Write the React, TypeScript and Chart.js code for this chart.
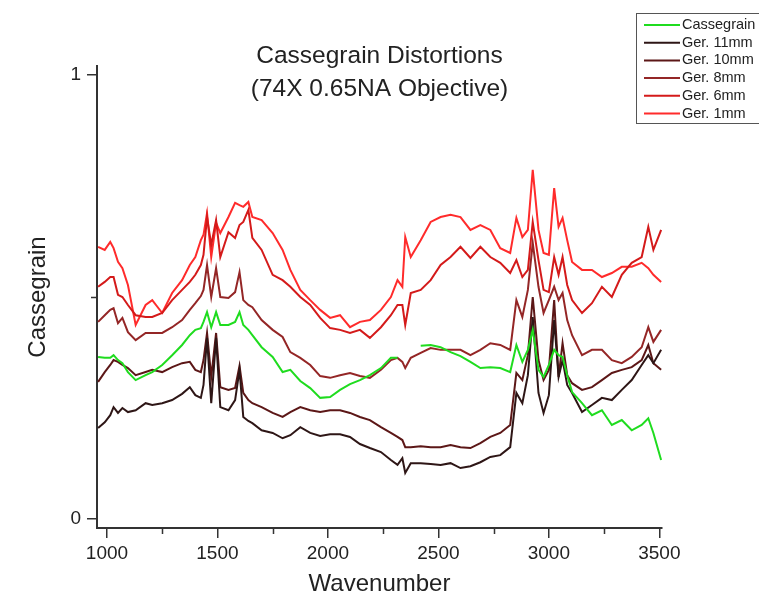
import React, { useEffect, useRef } from "react";
import { Chart, registerables } from "chart.js";

Chart.register(...registerables);

const titleLines = ["Cassegrain Distortions", "(74X 0.65NA Objective)"];
const xAxisTitle = "Wavenumber";
const yAxisTitle = "Cassegrain";

const xMajorTicks = [1000, 1500, 2000, 2500, 3000, 3500];
const xMinorTicks = [1250, 1750, 2250, 2750, 3250];
const yMajorTicks = [0, 1];
const yMinorTicks = [0.5];

const seriesLabels = ["Cassegrain", "Ger. 11mm", "Ger. 10mm", "Ger. 8mm", "Ger. 6mm", "Ger. 1mm"];
const seriesColors = ["#1fdc1f", "#2e1616", "#5c1717", "#942626", "#d41a1a", "#ff2b2b"];

const wavenumber = [
  960, 990, 1015, 1030, 1050, 1070, 1095, 1130, 1175, 1205,
  1250, 1295, 1340, 1375, 1400, 1425, 1437, 1453, 1472, 1494,
  1513, 1550, 1580, 1600, 1617, 1640, 1658, 1700, 1750, 1795,
  1830, 1875, 1920, 1965, 2010, 2055, 2100, 2145, 2190, 2240,
  2285, 2315, 2337, 2350, 2375, 2420, 2465, 2510, 2555, 2600,
  2645, 2690, 2735, 2780, 2825, 2853, 2880, 2905, 2927, 2953,
  2976, 3000, 3024, 3044, 3062, 3083, 3105, 3150, 3195, 3240,
  3285, 3330, 3375, 3420, 3450, 3473, 3508,
];

const cassegrain = [
  0.365, 0.363, 0.363, 0.369, 0.358, 0.351, 0.331, 0.313, 0.324, 0.331,
  0.347, 0.369, 0.392, 0.414, 0.426, 0.430, 0.444, 0.466, 0.432, 0.466,
  0.437, 0.437, 0.444, 0.466, 0.437, 0.426, 0.414, 0.387, 0.365, 0.331,
  0.336, 0.311, 0.295, 0.273, 0.275, 0.291, 0.304, 0.313, 0.324, 0.340,
  0.363, 0.363, null, null, null, 0.390, 0.392, 0.387, 0.376, 0.367,
  0.354, 0.340, 0.342, 0.340, 0.331, 0.392, 0.354, 0.381, 0.426, 0.336,
  0.320, 0.347, 0.381, 0.369, 0.365, 0.324, 0.286, 0.261, 0.234, 0.245,
  0.212, 0.223, 0.200, 0.212, 0.227, 0.194, 0.133,
];

const ger11mm = [
  0.205, 0.218, 0.234, 0.252, 0.239, 0.250, 0.241, 0.245, 0.261, 0.257,
  0.261, 0.268, 0.282, 0.297, 0.279, 0.273, 0.302, 0.408, 0.261, 0.408,
  0.252, 0.245, 0.268, 0.336, 0.230, 0.221, 0.216, 0.200, 0.194, 0.182,
  0.189, 0.207, 0.194, 0.187, 0.191, 0.191, 0.185, 0.169, 0.160, 0.151,
  0.133, 0.122, 0.137, 0.104, 0.126, 0.126, 0.124, 0.122, 0.126, 0.115,
  0.119, 0.128, 0.140, 0.144, 0.162, 0.284, 0.261, 0.324, 0.455, 0.284,
  0.239, 0.279, 0.448, 0.320, 0.358, 0.302, 0.284, 0.241, 0.257, 0.273,
  0.268, 0.291, 0.313, 0.347, 0.369, 0.351, 0.381,
];

const ger10mm = [
  0.309, 0.331, 0.347, 0.358, 0.354, 0.347, 0.340, 0.324, 0.331, 0.336,
  0.331, 0.342, 0.351, 0.354, 0.336, 0.331, 0.358, 0.419, 0.320, 0.419,
  0.297, 0.291, 0.295, 0.345, 0.284, 0.268, 0.261, 0.252, 0.239, 0.230,
  0.241, 0.252, 0.245, 0.241, 0.245, 0.245, 0.239, 0.230, 0.223, 0.207,
  0.194, 0.185, 0.178, 0.162, 0.162, 0.164, 0.162, 0.162, 0.167, 0.162,
  0.160, 0.171, 0.185, 0.194, 0.212, 0.329, 0.313, 0.369, 0.500, 0.358,
  0.313, 0.336, 0.493, 0.320, 0.396, 0.324, 0.306, 0.291, 0.297, 0.313,
  0.329, 0.336, 0.342, 0.358, 0.392, 0.351, 0.336,
];

const ger8mm = [
  0.444, 0.459, 0.471, 0.475, 0.441, 0.453, 0.421, 0.403, 0.419, 0.419,
  0.419, 0.432, 0.448, 0.471, 0.486, 0.502, 0.516, 0.572, 0.500, 0.565,
  0.500, 0.498, 0.511, 0.556, 0.493, 0.482, 0.477, 0.448, 0.426, 0.410,
  0.376, 0.363, 0.347, 0.322, 0.318, 0.324, 0.329, 0.322, 0.318, 0.336,
  0.358, 0.363, 0.354, 0.340, 0.363, 0.374, 0.385, 0.381, 0.381, 0.381,
  0.369, 0.381, 0.396, 0.392, 0.381, 0.493, 0.455, 0.516, 0.622, 0.523,
  0.464, 0.493, 0.523, 0.493, 0.509, 0.448, 0.414, 0.369, 0.381, 0.381,
  0.358, 0.351, 0.365, 0.387, 0.432, 0.399, 0.426,
];

const ger6mm = [
  0.523, 0.534, 0.545, 0.545, 0.505, 0.500, 0.482, 0.459, 0.455, 0.455,
  0.464, 0.493, 0.516, 0.534, 0.550, 0.572, 0.595, 0.680, 0.617, 0.673,
  0.590, 0.646, 0.633, 0.662, 0.669, 0.696, 0.633, 0.606, 0.550, 0.538,
  0.523, 0.500, 0.482, 0.453, 0.430, 0.426, 0.419, 0.426, 0.408, 0.432,
  0.459, 0.482, 0.482, 0.437, 0.509, 0.516, 0.538, 0.572, 0.590, 0.613,
  0.588, 0.613, 0.590, 0.577, 0.554, 0.583, 0.545, 0.561, 0.669, 0.583,
  0.516, 0.511, 0.590, 0.550, 0.590, 0.527, 0.493, 0.464, 0.486, 0.523,
  0.500, 0.550, 0.577, 0.590, 0.658, 0.606, 0.651,
];

const ger1mm = [
  0.613, 0.606, 0.624, 0.610, 0.579, 0.565, 0.527, 0.437, 0.482, 0.493,
  0.464, 0.509, 0.538, 0.572, 0.590, 0.628, 0.640, 0.689, 0.590, 0.667,
  0.644, 0.680, 0.712, 0.707, 0.703, 0.714, 0.680, 0.673, 0.644, 0.606,
  0.561, 0.516, 0.493, 0.471, 0.453, 0.459, 0.432, 0.444, 0.448, 0.471,
  0.500, 0.538, 0.523, 0.635, 0.590, 0.628, 0.669, 0.680, 0.685, 0.680,
  0.651, 0.662, 0.651, 0.610, 0.599, 0.678, 0.635, 0.651, 0.786, 0.651,
  0.599, 0.595, 0.745, 0.658, 0.678, 0.628, 0.579, 0.561, 0.561, 0.545,
  0.554, 0.568, 0.568, 0.577, 0.565, 0.550, 0.534,
];

const seriesValues = [cassegrain, ger11mm, ger10mm, ger8mm, ger6mm, ger1mm];

const FONT = '"Liberation Sans", Arial, Helvetica, sans-serif';

const overlayPlugin = {
  id: "overlay",
  afterDraw(chart: any) {
    const ctx = chart.ctx;
    const area = chart.chartArea;
    const xs = chart.scales.x;
    const ys = chart.scales.y;
    ctx.save();

    // Minor tick marks (shorter than the major ones)
    ctx.strokeStyle = "#333";
    ctx.lineWidth = 1.5;
    ctx.beginPath();
    xMinorTicks.forEach((v) => {
      const px = Math.round(xs.getPixelForValue(v)) + 0.5;
      ctx.moveTo(px, area.bottom);
      ctx.lineTo(px, area.bottom + 6);
    });
    yMinorTicks.forEach((v) => {
      const py = Math.round(ys.getPixelForValue(v)) + 0.5;
      ctx.moveTo(area.left, py);
      ctx.lineTo(area.left - 6, py);
    });
    ctx.stroke();

    // Title
    ctx.fillStyle = "#222";
    ctx.font = `24.5px ${FONT}`;
    ctx.textAlign = "center";
    ctx.textBaseline = "middle";
    const cx = (area.left + area.right) / 2;
    titleLines.forEach((t, i) => ctx.fillText(t, cx, 56 + i * 33));

    // Legend box
    const bx = 636;
    const by = 13;
    const bw = 130;
    const bh = 110;
    ctx.fillStyle = "#fff";
    ctx.fillRect(bx, by, bw, bh);
    ctx.strokeStyle = "#555";
    ctx.lineWidth = 1;
    ctx.strokeRect(bx + 0.5, by + 0.5, bw, bh);
    ctx.font = `14.5px ${FONT}`;
    ctx.textAlign = "left";
    chart.data.datasets.forEach((ds: any, i: number) => {
      const y = by + 12 + i * 17.7;
      ctx.strokeStyle = ds.borderColor;
      ctx.lineWidth = 2;
      ctx.beginPath();
      ctx.moveTo(bx + 8, y);
      ctx.lineTo(bx + 44, y);
      ctx.stroke();
      ctx.fillStyle = "#222";
      ctx.fillText(ds.label, bx + 46, y);
    });
    ctx.restore();
  },
};

export default function App() {
  const ref = useRef<HTMLCanvasElement | null>(null);

  useEffect(() => {
    if (!ref.current) return;
    const datasets = seriesLabels.map((label, s) => ({
      label,
      data: wavenumber.map((x, i) => ({ x, y: seriesValues[s][i] })),
      borderColor: seriesColors[s],
      backgroundColor: seriesColors[s],
      borderWidth: 2,
      pointRadius: 0,
      tension: 0,
      spanGaps: false,
      fill: false,
    }));

    const chart = new Chart(ref.current, {
      type: "line",
      data: { datasets },
      plugins: [overlayPlugin],
      options: {
        animation: false,
        responsive: false,
        maintainAspectRatio: false,
        layout: { padding: { left: 0, right: 97, top: 66, bottom: 0 } },
        plugins: {
          legend: { display: false },
          title: { display: false },
          tooltip: { enabled: false },
        },
        scales: {
          x: {
            type: "linear",
            min: 955,
            max: 3512,
            afterBuildTicks: (s: any) => {
              s.ticks = xMajorTicks.map((value) => ({ value }));
            },
            afterFit: (s: any) => {
              s.height = 74;
            },
            ticks: {
              autoSkip: false,
              maxRotation: 0,
              padding: 4,
              color: "#222",
              font: { family: FONT, size: 19 },
              callback: (v: any) => String(v),
            },
            grid: {
              display: true,
              drawOnChartArea: false,
              drawTicks: true,
              tickLength: 10,
              color: "#333",
              lineWidth: 1.5,
            },
            border: { display: true, color: "#333", width: 2 },
            title: {
              display: true,
              text: xAxisTitle,
              color: "#222",
              font: { family: FONT, size: 24 },
              padding: { top: 0, bottom: 3 },
            },
          },
          y: {
            type: "linear",
            min: -0.02,
            max: 1.02,
            afterBuildTicks: (s: any) => {
              s.ticks = yMajorTicks.map((value) => ({ value }));
            },
            afterFit: (s: any) => {
              s.width = 97;
            },
            ticks: {
              padding: 6,
              color: "#222",
              font: { family: FONT, size: 19 },
              callback: (v: any) => String(v),
            },
            grid: {
              display: true,
              drawOnChartArea: false,
              drawTicks: true,
              tickLength: 10,
              color: "#333",
              lineWidth: 1.5,
            },
            border: { display: true, color: "#333", width: 2 },
            title: {
              display: true,
              text: yAxisTitle,
              color: "#222",
              font: { family: FONT, size: 24 },
              padding: { top: 24, bottom: 0 },
            },
          },
        },
      },
    });
    return () => chart.destroy();
  }, []);

  return (
    <div style={{ position: "absolute", left: 0, top: 0, width: 759, height: 602, background: "#fff" }}>
      <canvas ref={ref} width={759} height={602} style={{ display: "block" }} />
    </div>
  );
}
